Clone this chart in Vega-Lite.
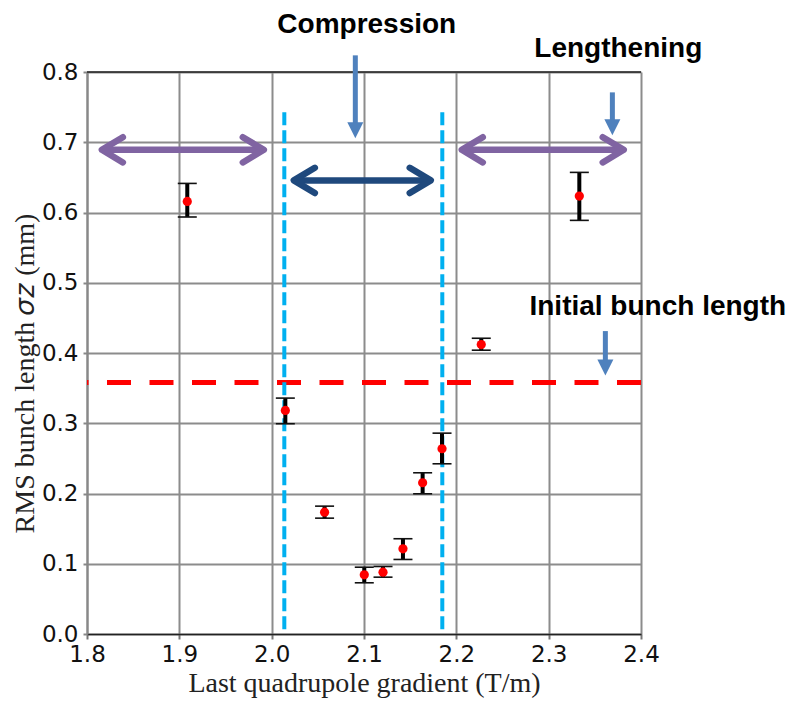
{
  "$schema": "https://vega.github.io/schema/vega-lite/v6.json",
  "width": 554,
  "height": 562,
  "autosize": {"type": "none"},
  "padding": {"left": 87, "top": 72, "right": 147, "bottom": 69},
  "background": "white",
  "config": {"view": {"stroke": null}},
  "datasets": {
    "points": [
      {"x": 1.9086, "y": 0.6158, "lo": 0.5936, "hi": 0.6414},
      {"x": 2.0148, "y": 0.3182, "lo": 0.2993, "hi": 0.3358},
      {"x": 2.0573, "y": 0.1734, "lo": 0.1649, "hi": 0.182},
      {"x": 2.1003, "y": 0.0843, "lo": 0.0729, "hi": 0.0951},
      {"x": 2.1206, "y": 0.088, "lo": 0.0809, "hi": 0.0961},
      {"x": 2.1422, "y": 0.1213, "lo": 0.1061, "hi": 0.1356},
      {"x": 2.1635, "y": 0.2153, "lo": 0.1996, "hi": 0.2295},
      {"x": 2.1845, "y": 0.2637, "lo": 0.2423, "hi": 0.2859},
      {"x": 2.227, "y": 0.412, "lo": 0.404, "hi": 0.421},
      {"x": 2.3332, "y": 0.6234, "lo": 0.5888, "hi": 0.6571}
    ],
    "hline": [{"y": 0.358}],
    "frame": [{"y": 0.8}],
    "vlines": [{"x": 2.0137, "ytop": 0.7426}, {"x": 2.1848, "ytop": 0.7426}],
    "arrows": [
      {"name": "outer", "x1": 1.8123, "x2": 1.9953, "y": 0.6892},
      {"name": "outer", "x1": 2.2021, "x2": 2.3851, "y": 0.6892},
      {"name": "compress", "x1": 2.0202, "x2": 2.1761, "y": 0.6457}
    ],
    "down": [
      {"x": 2.0906, "ytop": 0.8237, "yhead": 0.7212, "ytip": 0.7056},
      {"x": 2.369, "ytop": 0.771, "yhead": 0.7312, "ytip": 0.7098},
      {"x": 2.3614, "ytop": 0.4312, "yhead": 0.3909, "ytip": 0.368}
    ],
    "labels": [
      {"text": "Compression", "x": 2.103, "y": 0.855},
      {"text": "Lengthening", "x": 2.3754, "y": 0.822},
      {"text": "Initial bunch length", "x": 2.4182, "y": 0.4535}
    ]
  },
  "layer": [
    {
      "data": {"name": "hline"},
      "mark": {"type": "rule", "color": "#ff0000", "strokeWidth": 5, "strokeDash": [24, 18.5]},
      "encoding": {
        "y": {
          "field": "y", "type": "quantitative",
          "scale": {"domain": [0, 0.8], "nice": false, "zero": false},
          "axis": {
            "title": "RMS bunch length 𝜎𝑧 (mm)",
            "values": [0, 0.1, 0.2, 0.3, 0.4, 0.5, 0.6, 0.7, 0.8],
            "format": ".1f",
            "labelFont": "DejaVu Sans", "labelFontSize": 23, "labelColor": "#111", "labelPadding": 5,
            "tickColor": "#888", "tickSize": 4, "tickWidth": 2,
            "domainColor": "#888", "domainWidth": 2,
            "grid": true, "gridColor": "#8c8c8c", "gridWidth": 2,
            "titleFont": "Liberation Serif", "titleFontSize": 28, "titleFontWeight": "normal", "titleColor": "#222",
            "titleX": -62, "titleY": 301, "titleAngle": -90, "titleBaseline": "middle", "titleAlign": "center"
          }
        }
      }
    },
    {
      "data": {"name": "frame"},
      "mark": {"type": "rule", "color": "#222", "strokeWidth": 1.5},
      "encoding": {
        "y": {"field": "y", "type": "quantitative"}
      }
    },
    {
      "data": {"name": "vlines"},
      "mark": {"type": "rule", "color": "#00b0f0", "strokeWidth": 4, "strokeDash": [13, 5]},
      "encoding": {
        "x": {
          "field": "x", "type": "quantitative",
          "scale": {"domain": [1.8, 2.4], "nice": false, "zero": false},
          "axis": {
            "title": "Last quadrupole gradient (T/m)",
            "values": [1.8, 1.9, 2.0, 2.1, 2.2, 2.3, 2.4],
            "format": ".1f",
            "labelFont": "DejaVu Sans", "labelFontSize": 23, "labelColor": "#111", "labelPadding": 4, "labelFlush": false,
            "tickColor": "#777", "tickSize": 5, "tickWidth": 2,
            "domainColor": "#222", "domainWidth": 1.5,
            "grid": true, "gridColor": "#8c8c8c", "gridWidth": 2,
            "titleFont": "Liberation Serif", "titleFontSize": 28, "titleFontWeight": "normal", "titleColor": "#222",
            "titlePadding": 3
          }
        },
        "y": {"field": "ytop", "type": "quantitative"},
        "y2": {"datum": 0}
      }
    },
    {
      "data": {"name": "points"},
      "mark": {"type": "rule", "color": "#000", "strokeWidth": 4},
      "encoding": {
        "x": {"field": "x", "type": "quantitative"},
        "y": {"field": "lo", "type": "quantitative"},
        "y2": {"field": "hi"}
      }
    },
    {
      "data": {"name": "points"},
      "mark": {"type": "tick", "orient": "horizontal", "color": "#111", "size": 19, "thickness": 1.6, "opacity": 1},
      "encoding": {
        "x": {"field": "x", "type": "quantitative"},
        "y": {"field": "lo", "type": "quantitative"}
      }
    },
    {
      "data": {"name": "points"},
      "mark": {"type": "tick", "orient": "horizontal", "color": "#111", "size": 19, "thickness": 1.6, "opacity": 1},
      "encoding": {
        "x": {"field": "x", "type": "quantitative"},
        "y": {"field": "hi", "type": "quantitative"}
      }
    },
    {
      "data": {"name": "points"},
      "mark": {"type": "point", "shape": "circle", "filled": true, "color": "#ff0000", "size": 85, "opacity": 1},
      "encoding": {
        "x": {"field": "x", "type": "quantitative"},
        "y": {"field": "y", "type": "quantitative"}
      }
    },
    {
      "data": {"name": "arrows"},
      "mark": {"type": "rule", "strokeWidth": 6.5, "xOffset": 4, "x2Offset": -4, "strokeCap": "butt"},
      "encoding": {
        "x": {"field": "x1", "type": "quantitative"},
        "x2": {"field": "x2"},
        "y": {"field": "y", "type": "quantitative"},
        "color": {"field": "name", "type": "nominal", "scale": {"domain": ["outer", "compress"], "range": ["#8064a2", "#1f497d"]}, "legend": null}
      }
    },
    {
      "data": {"name": "arrows"},
      "mark": {"type": "point", "shape": "M1,-0.6L0,0L1,0.6", "filled": false, "size": 1764, "strokeWidth": 6.5, "strokeCap": "round", "strokeJoin": "round", "xOffset": 3.5, "opacity": 1},
      "encoding": {
        "x": {"field": "x1", "type": "quantitative"},
        "y": {"field": "y", "type": "quantitative"},
        "color": {"field": "name", "type": "nominal", "legend": null}
      }
    },
    {
      "data": {"name": "arrows"},
      "mark": {"type": "point", "shape": "M-1,-0.6L0,0L-1,0.6", "filled": false, "size": 1764, "strokeWidth": 6.5, "strokeCap": "round", "strokeJoin": "round", "xOffset": -3.5, "opacity": 1},
      "encoding": {
        "x": {"field": "x2", "type": "quantitative"},
        "y": {"field": "y", "type": "quantitative"},
        "color": {"field": "name", "type": "nominal", "legend": null}
      }
    },
    {
      "data": {"name": "down"},
      "mark": {"type": "rule", "color": "#4f81bd", "strokeWidth": 5, "y2Offset": 3},
      "encoding": {
        "x": {"field": "x", "type": "quantitative"},
        "y": {"field": "ytop", "type": "quantitative"},
        "y2": {"field": "yhead"}
      }
    },
    {
      "data": {"name": "down"},
      "mark": {"type": "point", "shape": "M-0.5,-1L0.5,-1L0,0Z", "filled": true, "color": "#4f81bd", "size": 1024, "opacity": 1},
      "encoding": {
        "x": {"field": "x", "type": "quantitative"},
        "y": {"field": "ytip", "type": "quantitative"}
      }
    },
    {
      "data": {"name": "labels"},
      "mark": {"type": "text", "font": "Liberation Sans", "fontWeight": "bold", "fontSize": 28, "align": "center", "baseline": "alphabetic", "color": "#000"},
      "encoding": {
        "x": {"field": "x", "type": "quantitative"},
        "y": {"field": "y", "type": "quantitative"},
        "text": {"field": "text"}
      }
    }
  ]
}
